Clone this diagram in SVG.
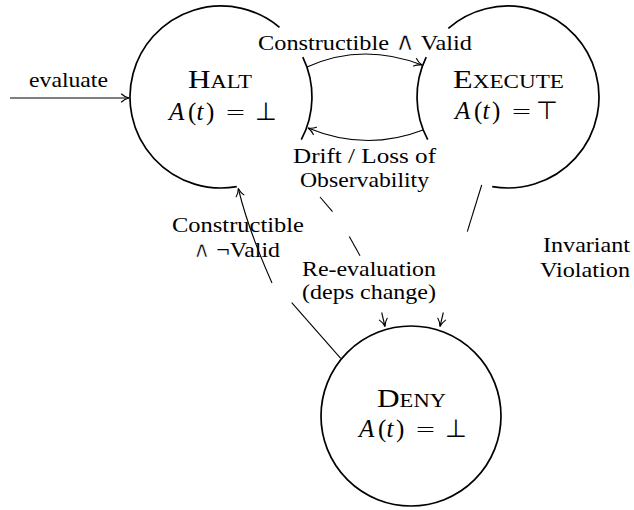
<svg xmlns="http://www.w3.org/2000/svg" width="634" height="510" viewBox="0 0 634 510">
<style>
.state{fill:none;stroke:#000;stroke-width:1.7}
.edge{fill:none;stroke:#000;stroke-width:1.1}
.arr{marker-end:url(#tip)}
text{font-family:'Liberation Serif','DejaVu Serif','DejaVu Sans',serif;fill:#000}
.lbl{font-size:22px}
.name{font-size:25px;font-variant:small-caps;text-anchor:middle}
.math{font-size:25px}
.it{font-style:italic}
.sym{font-family:'DejaVu Sans',sans-serif;font-weight:200}
.thin{stroke:#fff;stroke-width:0.7}
.big{font-size:25px}
</style>
<defs>
<marker id="tip" viewBox="-10 -6 12 12" refX="0" refY="0" markerWidth="12" markerHeight="12" markerUnits="userSpaceOnUse" orient="auto" overflow="visible">
<path d="M -7.5 -4 C -5 -1.6 -2 -0.5 0 0 C -2 0.5 -5 1.6 -7.5 4" fill="none" stroke="#000" stroke-width="1.1" stroke-linecap="round"/>
</marker>
</defs>
<g id="connectors">
<path class="edge arr" d="M 10 98 L 129 98"/>
<path class="edge arr" d="M 307 67 Q 362 42 422 65"/>
<path class="edge arr" d="M 423 130 Q 366 152 308 128"/>
<path class="edge" d="M 320 197 L 332.5 211.7"/>
<path class="edge" d="M 349.3 236.5 L 360 255.7"/>
<path class="edge arr" d="M 381.7 312.5 L 385 326.5"/>
<path class="edge" d="M 481.7 185 L 467.3 231.7"/>
<path class="edge arr" d="M 443.3 312.5 L 440 326.5"/>
<path class="edge" d="M 340.7 358.3 L 291.7 302.7"/>
<path class="edge arr" d="M 272 283 Q 248 229 238.3 188.5"/>
</g>
<g id="halt">
<path class="state" d="M 236.8 186.6 A 91 91 0 1 1 279.5 27.3"/>
<path class="state" d="M 302.8 57.1 A 91 91 0 0 1 301.3 139.7"/>
<text class="name" x="220" y="88" textLength="64" lengthAdjust="spacingAndGlyphs">Halt</text>
<text class="math" y="120"><tspan x="169" class="it">A</tspan><tspan x="188">(</tspan><tspan x="196.5" class="it">t</tspan><tspan x="206">)</tspan><tspan x="225" class="sym">=</tspan><tspan x="255" class="sym">⊥</tspan></text>
</g>
<g id="execute">
<path class="state" d="M 427.7 139.7 A 91 91 0 0 1 426.2 57.1"/>
<path class="state" d="M 448.3 28.3 A 91 91 0 1 1 492.2 186.6"/>
<text class="name" x="508.5" y="88" textLength="111" lengthAdjust="spacingAndGlyphs">Execute</text>
<text class="math" y="119"><tspan x="455" class="it">A</tspan><tspan x="474">(</tspan><tspan x="482.5" class="it">t</tspan><tspan x="492">)</tspan><tspan x="511" class="sym">=</tspan><tspan x="536" class="sym">⊤</tspan></text>
</g>
<g id="deny">
<circle class="state" cx="411" cy="416" r="90"/>
<text class="name" x="411.5" y="407" textLength="69" lengthAdjust="spacingAndGlyphs">Deny</text>
<text class="math" y="437"><tspan x="359" class="it">A</tspan><tspan x="378">(</tspan><tspan x="386.5" class="it">t</tspan><tspan x="396">)</tspan><tspan x="415" class="sym">=</tspan><tspan x="445" class="sym">⊥</tspan></text>
</g>
<g id="labels">
<text class="lbl" x="29" y="87" textLength="79" lengthAdjust="spacingAndGlyphs">evaluate</text>
<text class="lbl" x="258" y="50" textLength="214" lengthAdjust="spacingAndGlyphs">Constructible <tspan class="sym thin big">∧</tspan> Valid</text>
<text class="lbl" x="293" y="163" textLength="143" lengthAdjust="spacingAndGlyphs">Drift / Loss of</text>
<text class="lbl" x="300" y="187" textLength="129" lengthAdjust="spacingAndGlyphs">Observability</text>
<text class="lbl" x="172" y="232" textLength="132" lengthAdjust="spacingAndGlyphs">Constructible</text>
<text class="lbl" x="193" y="257" textLength="87" lengthAdjust="spacingAndGlyphs"><tspan class="sym thin">∧</tspan> ¬Valid</text>
<text class="lbl" x="302" y="276" textLength="134" lengthAdjust="spacingAndGlyphs">Re-evaluation</text>
<text class="lbl" x="302" y="299" textLength="134" lengthAdjust="spacingAndGlyphs">(deps change)</text>
<text class="lbl" x="543" y="252" textLength="87" lengthAdjust="spacingAndGlyphs">Invariant</text>
<text class="lbl" x="540" y="277" textLength="90" lengthAdjust="spacingAndGlyphs">Violation</text>
</g>
</svg>
